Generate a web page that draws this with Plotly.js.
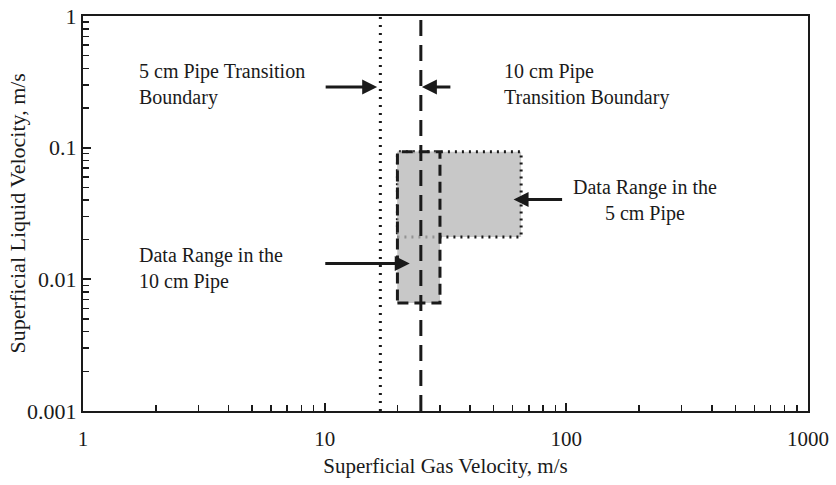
<!DOCTYPE html>
<html>
<head>
<meta charset="utf-8">
<script src="https://cdn.plot.ly/plotly-3.0.1.min.js"></script>
<style>html,body{margin:0;padding:0;background:#fff}</style>
</head>
<body>
<div id="chart" style="width:836px;height:485px"></div>
<script>
// Flow-pattern transition boundaries (superficial gas velocity, m/s)
const boundary5cm = 17;
const boundary10cm = 25;

// Experimental data ranges: [min, max]
const range5cmGas = [20, 65];
const range5cmLiquid = [0.021, 0.093];
const range10cmGas = [20, 30];
const range10cmLiquid = [0.0066, 0.093];

// Axis ticks
const xTickVals = [1, 10, 100, 1000];
const xTickText = ['1', '10', '100', '1000'];
const yTickVals = [0.001, 0.01, 0.1, 1];
const yTickText = ['0.001', '0.01', '0.1', '1'];

const FONT = 'Liberation Serif, Times New Roman, serif';
const INK = '#1a1a1a';
const GRAY = 'rgb(200,200,200)';
const log10 = Math.log10;

function rectPath(gx, ly) {
  return {
    x: [gx[0], gx[1], gx[1], gx[0], gx[0]],
    y: [ly[0], ly[0], ly[1], ly[1], ly[0]]
  };
}

const r5 = rectPath(range5cmGas, range5cmLiquid);
const r10 = rectPath(range10cmGas, range10cmLiquid);

const traces = [
  // solid underlay of the 10 cm range
  {
    x: r10.x, y: r10.y, mode: 'lines', fill: 'toself', fillcolor: GRAY,
    line: {width: 0}, hoverinfo: 'skip', showlegend: false
  },
  // 5 cm range, dotted outline
  {
    x: r5.x, y: r5.y, mode: 'lines', fill: 'toself', fillcolor: GRAY,
    line: {color: INK, width: 3, dash: '2px,5px'},
    hoverinfo: 'skip', showlegend: false
  },
  // 10 cm range veil + dashed outline
  {
    x: r10.x, y: r10.y, mode: 'lines', fill: 'toself',
    fillcolor: 'rgba(200,200,200,0.7)',
    line: {color: INK, width: 3, dash: '11px,6px'},
    hoverinfo: 'skip', showlegend: false
  },
  {
    x: [boundary5cm, boundary5cm], y: [yTickVals[0], yTickVals[3]],
    mode: 'lines', line: {color: INK, width: 3, dash: '2px,6px'},
    hoverinfo: 'skip', showlegend: false
  },
  {
    x: [boundary10cm, boundary10cm], y: [yTickVals[0], yTickVals[3]],
    mode: 'lines', line: {color: INK, width: 3, dash: '16px,9px'},
    hoverinfo: 'skip', showlegend: false
  }
];

const textFont = {family: FONT, size: 20, color: INK};

function label(x, y, text, xanchor, align) {
  return {x: log10(x), y: log10(y), xref: 'x', yref: 'y', text: text,
    showarrow: false, xanchor: xanchor, yanchor: 'middle', align: align, font: textFont};
}
function arrow(x, y, ax) {
  return {x: log10(x), y: log10(y), xref: 'x', yref: 'y', text: '',
    showarrow: true, arrowhead: 2, arrowsize: 1, arrowwidth: 3, arrowcolor: INK,
    ax: ax, ay: 0, standoff: 0};
}

const layout = {
  width: 836, height: 485,
  margin: {l: 83, r: 28, t: 16, b: 74},
  paper_bgcolor: '#fff', plot_bgcolor: '#fff',
  font: {family: FONT, size: 20, color: INK},
  xaxis: {
    type: 'log', range: [log10(xTickVals[0]), log10(xTickVals[3])],
    tickvals: xTickVals, ticktext: xTickText,
    ticks: 'inside', ticklen: 8, tickwidth: 2, tickcolor: INK,
    minor: {ticks: 'inside', ticklen: 6, tickwidth: 1.5, tickcolor: INK, dtick: 'D1', showgrid: false},
    showline: true, linecolor: INK, linewidth: 2, mirror: true,
    showgrid: false, zeroline: false,
    ticklabelstandoff: 8,
    tickfont: {family: FONT, size: 21, color: INK},
    title: {text: 'Superficial Gas Velocity, m/s', font: {family: FONT, size: 21, color: INK}, standoff: 8}
  },
  yaxis: {
    type: 'log', range: [log10(yTickVals[0]), log10(yTickVals[3])],
    tickvals: yTickVals, ticktext: yTickText,
    ticks: 'inside', ticklen: 8, tickwidth: 2, tickcolor: INK,
    minor: {ticks: 'inside', ticklen: 6, tickwidth: 1.5, tickcolor: INK, dtick: 'D1', showgrid: false},
    showline: true, linecolor: INK, linewidth: 2, mirror: true,
    showgrid: false, zeroline: false,
    tickfont: {family: FONT, size: 22, color: INK}
  },
  annotations: [
    {xref: 'paper', yref: 'paper', x: -0.091, y: 0.5, textangle: -90,
     text: 'Superficial Liquid Velocity, m/s', showarrow: false,
     xanchor: 'center', yanchor: 'middle', font: {family: FONT, size: 22, color: INK}},
    label(1.67, 0.30, '5 cm Pipe Transition<br>Boundary', 'left', 'left'),
    label(54, 0.30, '10 cm Pipe<br>Transition Boundary', 'left', 'left'),
    label(211, 0.040, 'Data Range in the<br>5 cm Pipe', 'center', 'center'),
    label(1.67, 0.012, 'Data Range in the<br>10 cm Pipe', 'left', 'left'),
    arrow(boundary5cm * 0.97, 0.289, -53),
    arrow(boundary10cm * 1.01, 0.289, 30),
    arrow(60.5, 0.0404, 50),
    arrow(22.5, 0.0132, -86)
  ]
};

Plotly.newPlot('chart', traces, layout, {displayModeBar: false, staticPlot: true});
</script>
</body>
</html>
